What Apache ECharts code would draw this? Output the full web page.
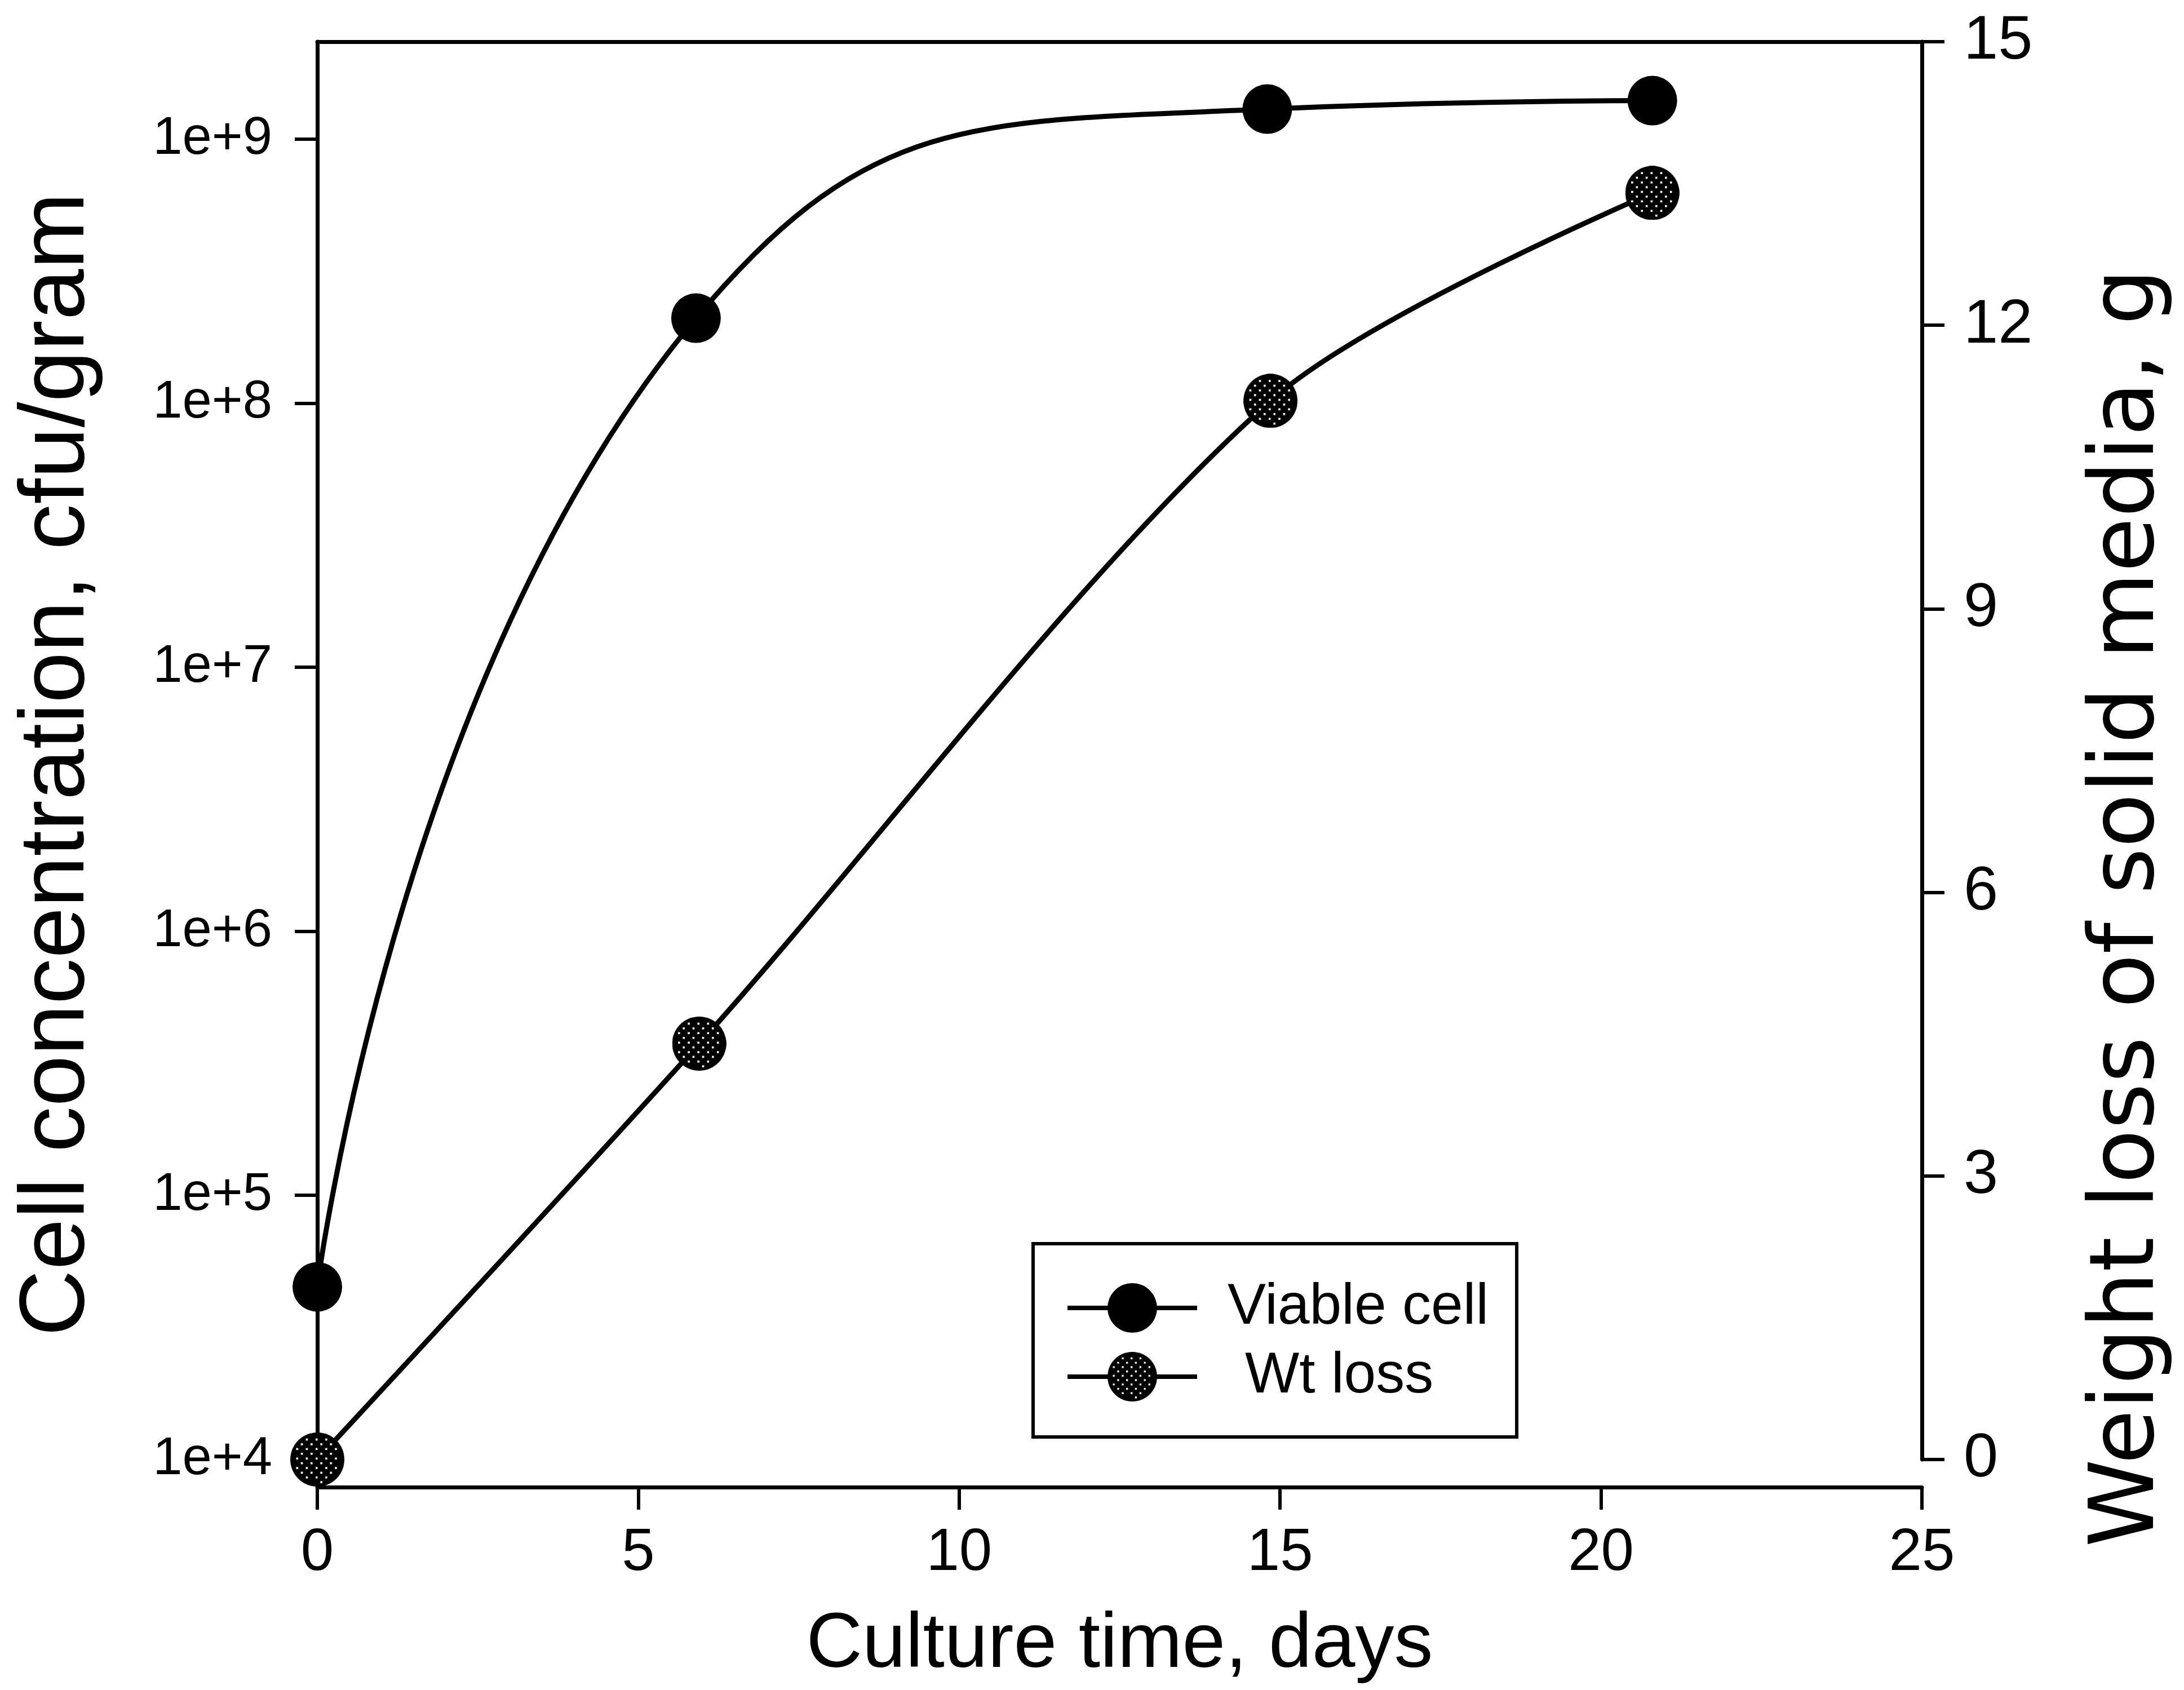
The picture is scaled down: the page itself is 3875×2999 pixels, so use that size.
<!DOCTYPE html>
<html>
<head>
  <meta charset="utf-8">
  <title>Cell concentration and weight loss</title>
</head>
<body style="margin: 0; background: #fff;">
  <div id="container" style="width: 3875px; height: 2999px;"></div>

  <script type="text/javascript" src="https://fastly.jsdelivr.net/npm/echarts@6.0.0/dist/echarts.min.js"></script>

  <script type="text/javascript">
    // values
    var cellDays = [0, 5.9, 14.8, 20.8];
    var viableCell = [4.5e4, 2.1e8, 1.3e9, 1.4e9];
    var lossDays = [0, 5.95, 14.85, 20.8];
    var wtLoss = [0, 4.4, 11.2, 13.4];
    var logTicks = [1e4, 1e5, 1e6, 1e7, 1e8, 1e9];

    var FONT = 'Liberation Sans';

    // black disc with a screen of small white dots (the Wt loss marker)
    function dottedDisc(size) {
      var c = document.createElement('canvas');
      c.width = size;
      c.height = size;
      var g = c.getContext('2d');
      var r = size / 2;
      g.fillStyle = '#000';
      g.beginPath();
      g.arc(r, r, r, 0, Math.PI * 2);
      g.fill();
      g.fillStyle = '#fff';
      for (var row = 0; row * 10.5 < size; row++) {
        var y = 5 + row * 10.5;
        for (var x = (row % 2 ? 11 : 0) + 4; x < size; x += 21.5) {
          var d = Math.sqrt((x - r) * (x - r) + (y - r) * (y - r));
          if (d < r - 9) g.fillRect(x - 2, y - 2, 4.5, 4.5);
        }
      }
      return 'image://' + c.toDataURL();
    }
    var wtSymbol = dottedDisc(120);

    var dom = document.getElementById('container');
    var myChart = echarts.init(dom, null, { renderer: 'canvas' });

    var axisLine = { show: true, onZero: false, lineStyle: { color: '#000', width: 7 } };
    var tickStyle = { color: '#000', width: 6 };

    var option = {
      animation: false,
      backgroundColor: '#fff',
      textStyle: { fontFamily: FONT, color: '#000' },
      grid: [
        { left: 563, top: 74, width: 2847, height: 2565, outerBoundsMode: 'none' },
        { left: 563, top: 74, width: 2847, height: 2516, outerBoundsMode: 'none' }
      ],
      legend: {
        data: [
          { name: 'Viable cell' },
          { name: 'Wt loss', textStyle: { padding: [0, 0, 0, 80] } }
        ],
        orient: 'vertical',
        left: 1833,
        top: 2207,
        padding: [63, 50, 56, 57],
        itemWidth: 230,
        itemHeight: 110,
        itemGap: 20,
        borderColor: '#000',
        borderWidth: 6,
        backgroundColor: '#fff',
        lineStyle: { width: 8, color: '#000' },
        textStyle: { fontFamily: FONT, fontSize: 102, color: '#000', padding: [0, 0, 0, 49] }
      },
      xAxis: [
        {
          gridIndex: 0,
          type: 'value',
          min: 0,
          max: 25,
          interval: 5,
          position: 'bottom',
          axisLine: axisLine,
          axisTick: { show: true, length: 40, lineStyle: tickStyle },
          axisLabel: { fontFamily: FONT, fontSize: 105, margin: 66, color: '#000' },
          splitLine: { show: false },
          name: 'Culture time, days',
          nameLocation: 'middle',
          nameGap: 212,
          nameTextStyle: { fontFamily: FONT, fontSize: 138, color: '#000' }
        },
        {
          // top frame line
          gridIndex: 1,
          type: 'value',
          min: 0,
          max: 25,
          position: 'top',
          axisLine: axisLine,
          axisTick: { show: false },
          axisLabel: { show: false },
          splitLine: { show: false }
        }
      ],
      yAxis: [
        {
          gridIndex: 0,
          type: 'log',
          logBase: 10,
          min: 7852,
          max: 2.34e9,
          position: 'left',
          axisLine: axisLine,
          axisTick: { show: true, length: 40, customValues: logTicks, lineStyle: tickStyle },
          axisLabel: {
            customValues: logTicks,
            fontFamily: FONT,
            fontSize: 94,
            margin: 80,
            color: '#000',
            formatter: function (v) {
              return '1e+' + Math.round(Math.log10(v));
            }
          },
          splitLine: { show: false },
          name: 'Cell concentration, cfu/gram',
          nameLocation: 'middle',
          nameGap: 378,
          nameTextStyle: { fontFamily: FONT, fontSize: 163, color: '#000' }
        },
        {
          gridIndex: 1,
          type: 'value',
          min: 0,
          max: 15,
          interval: 3,
          position: 'right',
          axisLine: axisLine,
          axisTick: { show: true, length: 40, lineStyle: tickStyle },
          axisLabel: { fontFamily: FONT, fontSize: 110, margin: 74, color: '#000' },
          splitLine: { show: false },
          name: 'Weight loss of solid media, g',
          nameLocation: 'middle',
          nameGap: 290,
          nameTextStyle: { fontFamily: 'DejaVu Sans', fontSize: 158, color: '#000', padding: [0, 558, 0, 0] }
        }
      ],
      series: [
        {
          name: 'Viable cell',
          type: 'line',
          xAxisIndex: 0,
          yAxisIndex: 0,
          smooth: 0.5,
          symbol: 'circle',
          symbolSize: 88,
          lineStyle: { color: '#000', width: 9 },
          itemStyle: { color: '#000' },
          data: cellDays.map(function (d, i) { return [d, viableCell[i]]; })
        },
        {
          name: 'Wt loss',
          type: 'line',
          xAxisIndex: 1,
          yAxisIndex: 1,
          smooth: 0.3,
          symbol: wtSymbol,
          symbolSize: 96,
          lineStyle: { color: '#000', width: 9 },
          itemStyle: { color: '#000' },
          data: lossDays.map(function (d, i) { return [d, wtLoss[i]]; })
        }
      ]
    };

    myChart.setOption(option);
    window.addEventListener('resize', myChart.resize);
  </script>
</body>
</html>
